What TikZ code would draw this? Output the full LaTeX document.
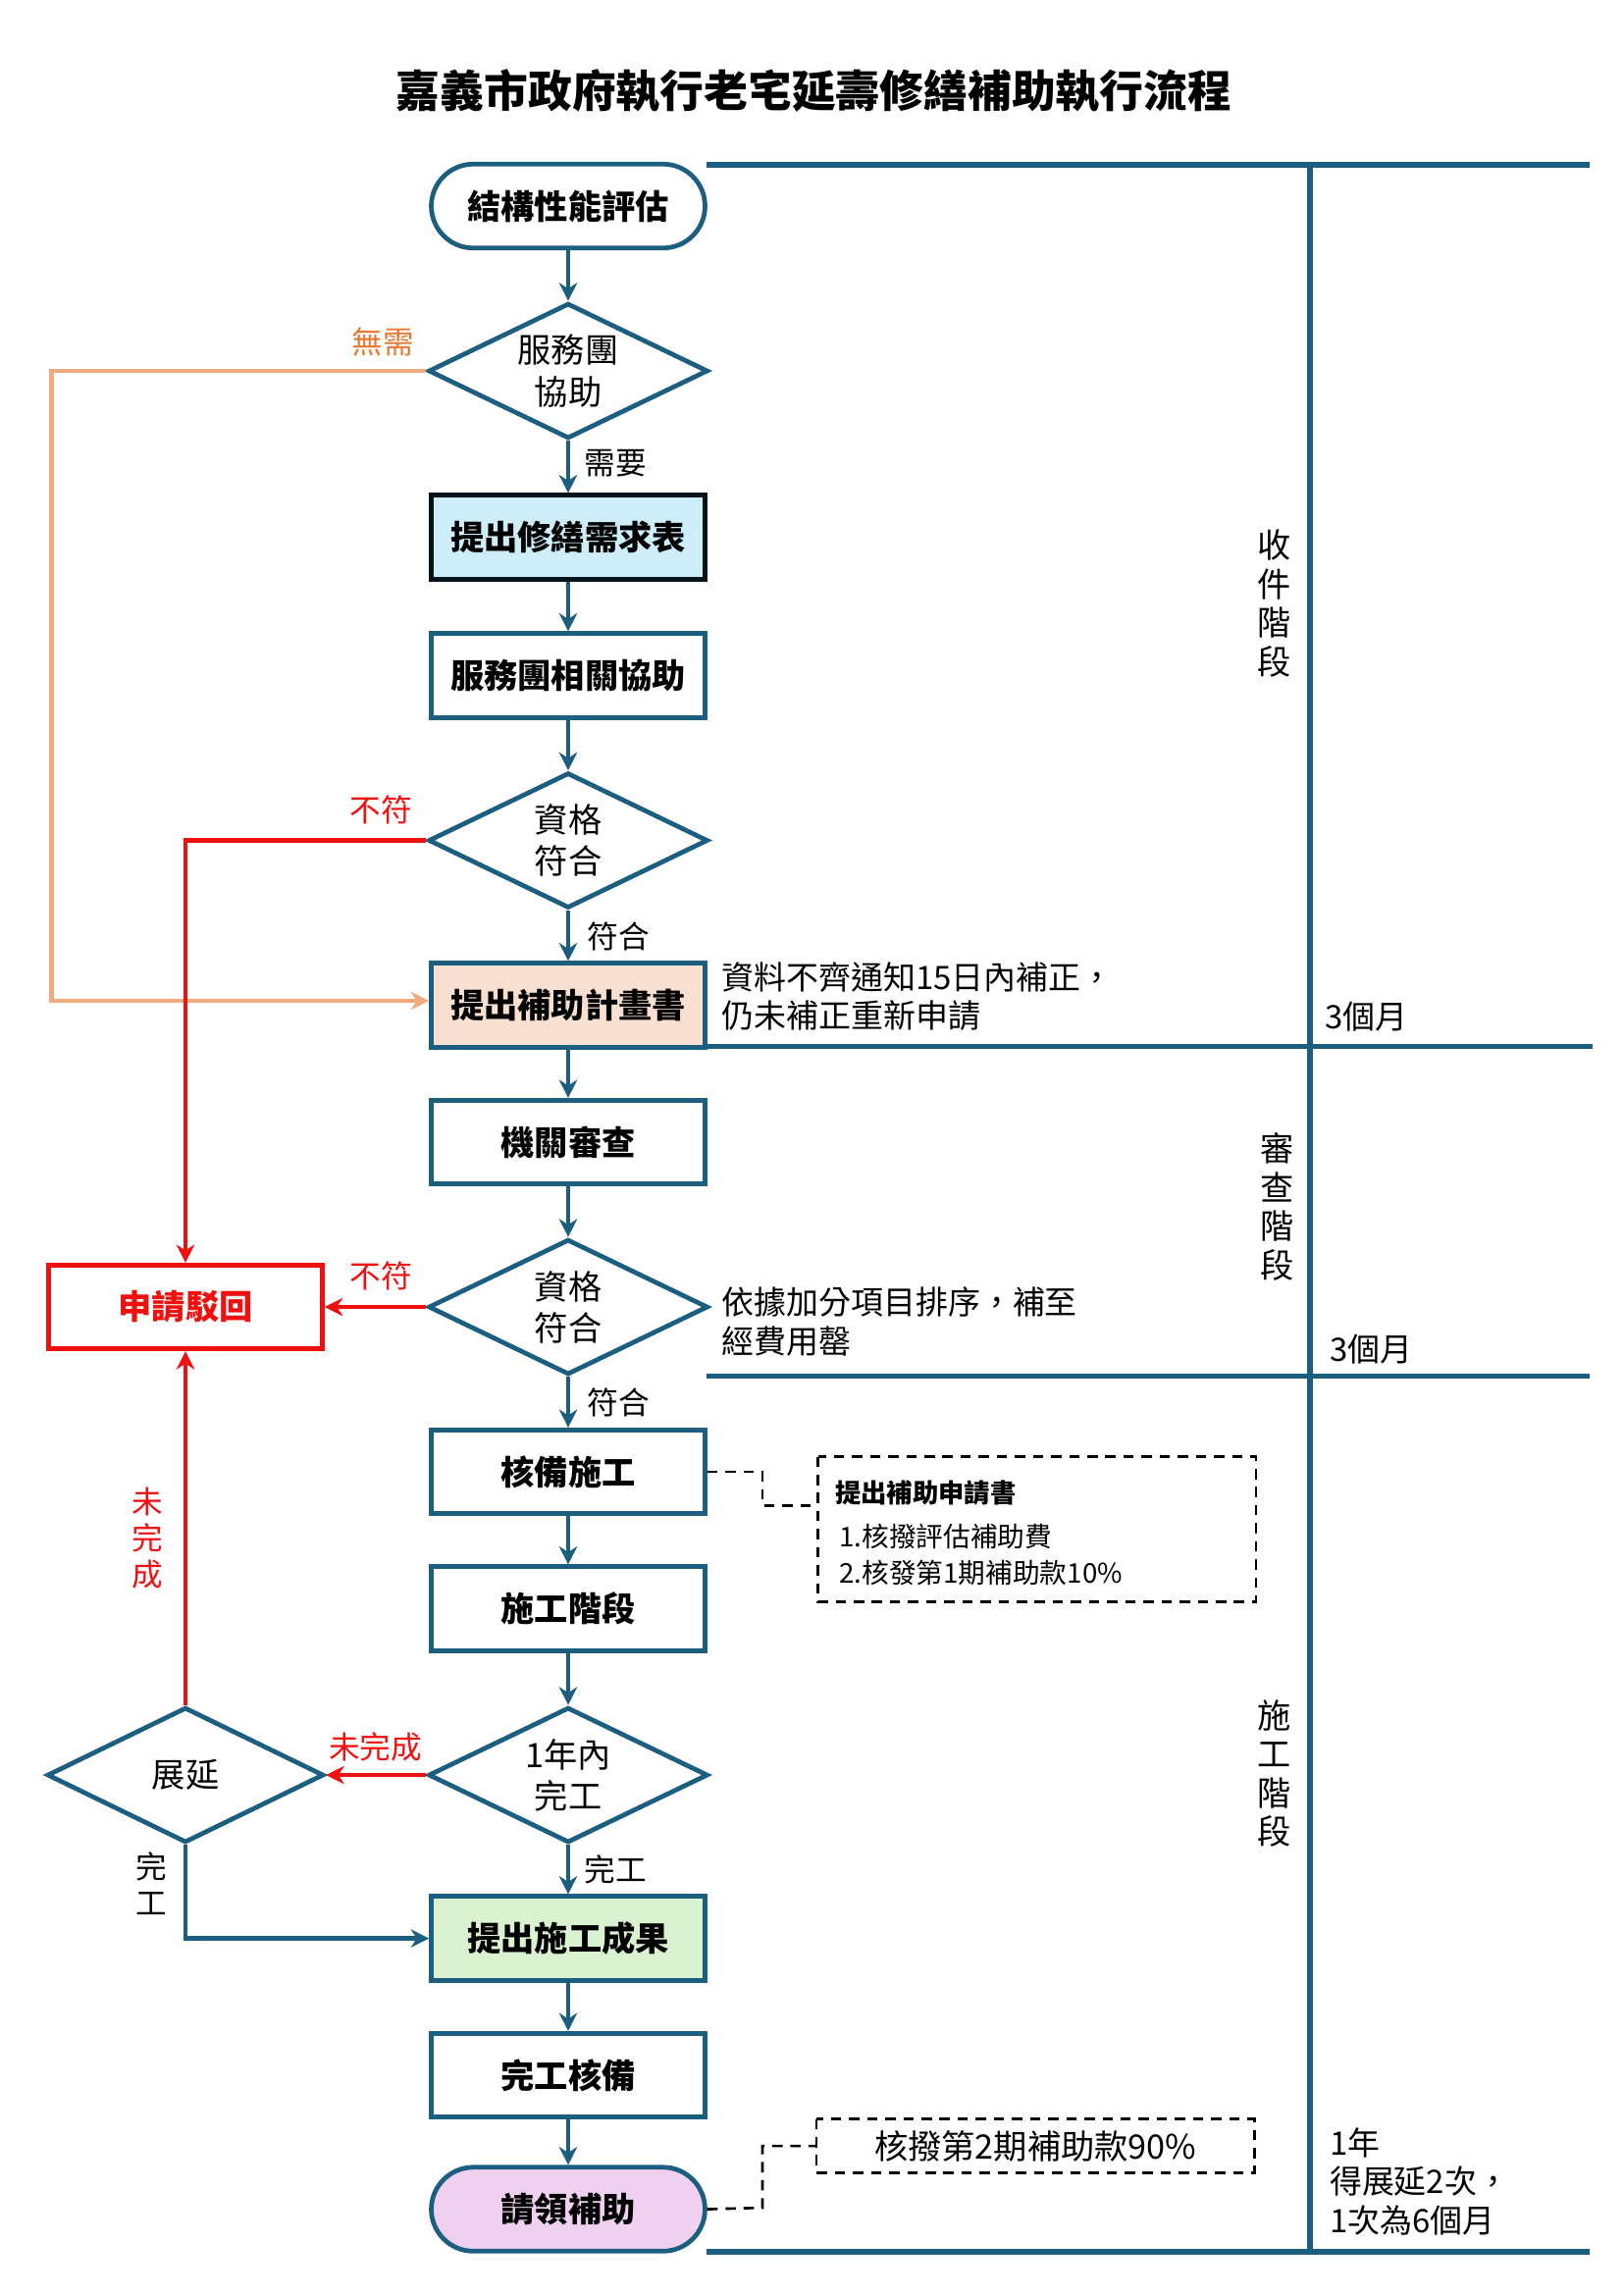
\documentclass[tikz,border=0pt]{standalone}
\usepackage{fontspec}
\setmainfont{Noto Sans CJK TC}
\usetikzlibrary{arrows.meta, positioning, shapes.geometric, calc}
\definecolor{flowblue}{HTML}{1B5E80}
\definecolor{flowred}{HTML}{F01010}
\definecolor{floworange}{HTML}{F0AA80}
\definecolor{txtorange}{HTML}{E87830}
\definecolor{fillblue}{HTML}{CDEEF8}
\definecolor{fillpeach}{HTML}{F9DFCF}
\definecolor{fillgreen}{HTML}{D9F2D0}
\definecolor{fillpink}{HTML}{F0D0F0}
\begin{document}
\begin{tikzpicture}[
    x=0.02cm, y=-0.02cm,
    box/.style={
      rectangle, draw=flowblue, line width=1.8pt, align=center,
      minimum width=3.72cm, minimum height=1.14cm,
      font=\fontsize{13}{16}\selectfont\bfseries, inner sep=2pt
    },
    term/.style={box, rounded corners=0.57cm},
    dec/.style={
      diamond, aspect=2, draw=flowblue, line width=1.8pt, align=center,
      minimum width=3.8cm, minimum height=1.84cm, inner sep=0pt,
      font=\fontsize{13}{16}\selectfont
    },
    lab/.style={font=\fontsize{12}{14}\selectfont, inner sep=1pt},
    note/.style={font=\fontsize{12.5}{15}\selectfont, align=left, anchor=west, inner sep=0pt},
    flow/.style={draw=flowblue, line width=1.8pt, -{Stealth[length=7pt,width=7pt]}},
    nope/.style={draw=flowred, line width=1.8pt, -{Stealth[length=7pt,width=7pt]}},
    dashline/.style={draw=black, line width=1pt, dash pattern=on 4pt off 3pt},
    phase/.style={draw=flowblue, line width=2pt}
  ]
    \useasboundingbox (0,0) rectangle (1102.7,1559.3);

    \node[font=\fontsize{17}{20}\selectfont\bfseries] (title) at (553,62) {嘉義市政府執行老宅延壽修繕補助執行流程};

    % main column
    \node[term] (eval)   at (386,140)  {結構性能評估};
    \node[dec]  (help)   at (386,252)  {服務團\\協助};
    \node[box, fill=fillblue, draw=black!80!flowblue] (form) at (386,365) {提出修繕需求表};
    \node[box]  (assist) at (386,459)  {服務團相關協助};
    \node[dec]  (qual1)  at (386,571)  {資格\\符合};
    \node[box, fill=fillpeach] (plan) at (386,683) {提出補助計畫書};
    \node[box]  (review) at (386,776)  {機關審查};
    \node[dec]  (qual2)  at (386,888)  {資格\\符合};
    \node[box]  (permit) at (386,1000) {核備施工};
    \node[box]  (build)  at (386,1093) {施工階段};
    \node[dec]  (year)   at (386,1206) {1年內\\完工};
    \node[box, fill=fillgreen] (result) at (386,1317) {提出施工成果};
    \node[box]  (done)   at (386,1410) {完工核備};
    \node[term, fill=fillpink] (claim) at (386,1501) {請領補助};

    % left column
    \node[box, draw=flowred, text=flowred] (reject) at (126,888) {申請駁回};
    \node[dec, minimum width=3.76cm]  (extend) at (126,1206) {展延};

    \draw[flow] (eval) -- (help);
    \draw[flow] (help) -- (form);
    \draw[flow] (form) -- (assist);
    \draw[flow] (assist) -- (qual1);
    \draw[flow] (qual1) -- (plan);
    \draw[flow] (plan) -- (review);
    \draw[flow] (review) -- (qual2);
    \draw[flow] (qual2) -- (permit);
    \draw[flow] (permit) -- (build);
    \draw[flow] (build) -- (year);
    \draw[flow] (year) -- (result);
    \draw[flow] (result) -- (done);
    \draw[flow] (done) -- (claim);

    \draw[draw=floworange, line width=1.8pt, -{Stealth[length=7pt,width=7pt]}]
      (help.west) -- (35,252) -- (35,680) -- (plan.west |- 0,680);
    \draw[nope] (qual1.west) -- (126,571) -- (reject.north);
    \draw[nope] (qual2.west) -- (reject.east);
    \draw[nope] (year.west) -- (extend.east);
    \draw[nope] (extend.north) -- (reject.south);
    \draw[flow] (extend.south) -- (126,1317) -- (result.west);

    \node[lab, text=txtorange] at (260,232) {無需};
    \node[lab, text=flowred] at (259,550) {不符};
    \node[lab, text=flowred] at (259,867) {不符};
    \node[lab, text=flowred] at (255,1187) {未完成};
    \node[lab, text=flowred, align=center] at (100,1045) {未\\完\\成};
    \node[lab, align=center] at (103,1280) {完\\工};
    \node[lab] at (418,315) {需要};
    \node[lab] at (420,636) {符合};
    \node[lab] at (420,953) {符合};
    \node[lab] at (418,1270) {完工};

    % notes
    \node[note] at (490,677) {資料不齊通知15日內補正，\\仍未補正重新申請};
    \node[note] at (490,898) {依據加分項目排序，補至\\經費用罄};

    \node[draw=none, minimum width=5.94cm, minimum height=1.96cm] (subbox) at (704.5,1039) {};
    \draw[dashline] (subbox.north west) rectangle (subbox.south east);
    \node[note, font=\fontsize{10}{12}\selectfont\bfseries] at (567,1014) {提出補助申請書};
    \node[note, font=\fontsize{10.5}{14}\selectfont] at (570,1056) {1.核撥評估補助費\\2.核發第1期補助款10\%};
    \draw[dashline] (permit.east) -- (518,1000) -- (518,1023) -- (subbox.west |- 0,1023);

    \node[draw=none, minimum width=5.94cm, minimum height=0.72cm, font=\fontsize{13}{16}\selectfont] (paybox) at (703.5,1458) {核撥第2期補助款90\%};
    \draw[dashline] (paybox.north west) rectangle (paybox.south east);
    \draw[dashline] (claim.east) -- (518,1500) -- (518,1458) -- (paybox.west);

    % phases
    \coordinate (ptop) at (890,112);
    \coordinate (pbot) at (890,1530);
    \draw[phase] (ptop) -- (pbot);
    \draw[phase] (480,112) -- (1080,112);
    \draw[phase] (480,711) -- (1082,711);
    \draw[phase] (480,935) -- (1080,935);
    \draw[phase] (480,1530) -- (1080,1530);

    \node[lab, align=center, font=\fontsize{13}{15}\selectfont] at (866,410) {收\\件\\階\\段};
    \node[lab, align=center, font=\fontsize{13}{15}\selectfont] at (868,820) {審\\查\\階\\段};
    \node[lab, align=center, font=\fontsize{13}{15}\selectfont] at (866,1205) {施\\工\\階\\段};
    \node[note] at (900,691) {3個月};
    \node[note] at (903,917) {3個月};
    \node[note] at (903,1482) {1年\\得展延2次，\\1次為6個月};
  \end{tikzpicture}
\end{document}
